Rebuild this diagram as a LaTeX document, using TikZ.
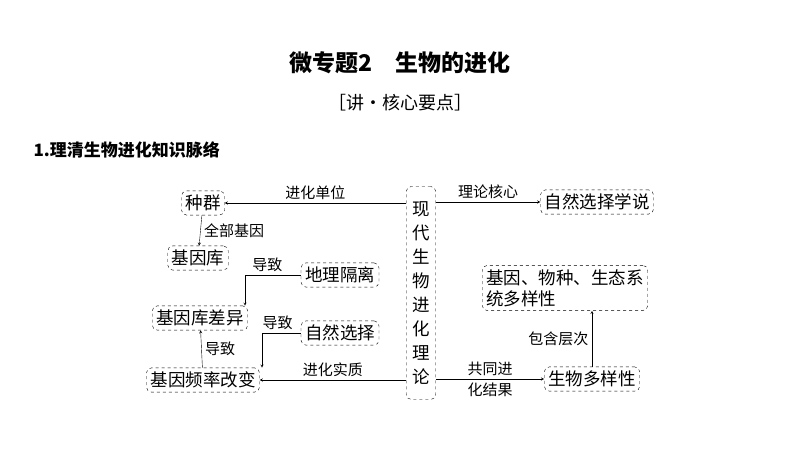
\documentclass[tikz,border=0pt]{standalone}
\usepackage{fontspec}
\setmainfont{Noto Sans CJK SC}
\usetikzlibrary{positioning}
\tikzset{
    box/.style ={
        draw,
        dashed,
        rounded corners=5pt,
        inner sep=4pt,
        font=\fontsize{17.5}{21}\selectfont
    },
    lab/.style ={
        font=\fontsize{15}{17}\selectfont
    },
    arr/.style ={
        ->,
        >=stealth
    }
}
\begin{document}
\begin{tikzpicture}[x=1pt,y=-1pt]
    \useasboundingbox (0,0) rectangle (800,450);
    \node[font=\fontsize{23}{27}\selectfont\bfseries] (title) at(400,63) {微专题2\quad 生物的进化};
    \node[font=\fontsize{18}{21}\selectfont] (sub) at(400,103) {［讲·核心要点］};
    \node[font=\fontsize{17}{20}\selectfont\bfseries,anchor=west] (head) at(30,150) {1.理清生物进化知识脉络};
    \node[box] (zq) at(203,203) {种群};
    \node[box] (jyk) at(198,258) {基因库};
    \node[box] (dl) at(340,275) {地理隔离};
    \node[box] (cy) at(200,318) {基因库差异};
    \node[box] (zr) at(340,333) {自然选择};
    \node[box] (pl) at(203,380) {基因频率改变};
    \node[box,align=center,minimum height=213pt,inner sep=6pt,font=\fontsize{17.5}{24}\selectfont] (xd) at(421,293) {现\\代\\生\\物\\进\\化\\理\\论};
    \node[box] (xs) at(597,202) {自然选择学说};
    \node[box,align=left] (dy) at(565,288) {基因、物种、生态系\\统多样性};
    \node[box] (sw) at(592,379) {生物多样性};
    \draw[arr] (xd.west|-zq) -- node[lab,above] {进化单位} (zq);
    \draw[arr] (xd.east|-xs) -- node[lab,above] {理论核心} (xs);
    \draw[arr] (zq) -- node[lab,right] {全部基因} (jyk);
    \draw[arr] (dl.west) -| node[lab,pos=0.3,above] {导致} (cy.north-|245,0);
    \draw[arr] (zr.west) -| node[lab,pos=0.3,above] {导致} (pl.north-|262,0);
    \draw[arr] (pl) -- node[lab,right] {导致} (cy);
    \draw[arr] (xd.west|-pl) -- node[lab,above] {进化实质} (pl);
    \draw[arr] (xd.east|-sw) -- node[lab,above] {共同进} node[lab,below] {化结果} (sw);
    \draw[arr] (sw) -- node[lab,left] {包含层次} (sw|-dy.south);
\end{tikzpicture}
\end{document}
